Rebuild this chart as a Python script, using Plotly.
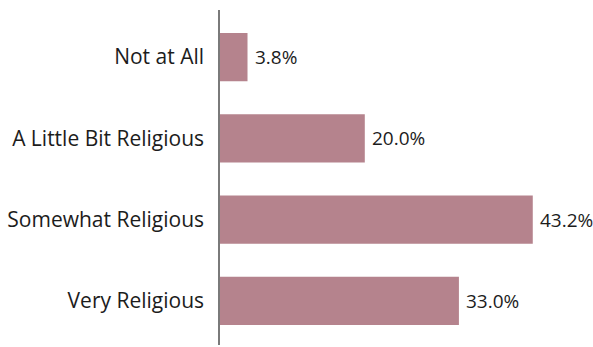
import plotly.graph_objects as go

categories = ["Very Religious", "Somewhat Religious", "A Little Bit Religious", "Not at All"]
values = [33.0, 43.2, 20.0, 3.8]
labels = ["33.0%", "43.2%", "20.0%", "3.8%"]

FONT = "Open Sans"
TXT = "#1c1c1c"

fig = go.Figure(go.Bar(
    x=values, y=categories, orientation="h",
    marker=dict(color="#B5838D", line=dict(width=0)),
    width=0.593, hoverinfo="skip",
))
for v, c, t in zip(values, categories, labels):
    fig.add_annotation(x=v, y=c, text=t, showarrow=False, xanchor="left",
                       xshift=5, font=dict(size=19, color=TXT, family=FONT))
fig.update_layout(
    width=593, height=347,
    margin=dict(l=220, r=11, t=10, b=2),
    plot_bgcolor="white", paper_bgcolor="white",
    showlegend=False,
    font=dict(family=FONT, size=21, color=TXT),
    xaxis=dict(range=[0, 50], visible=False, showgrid=False, zeroline=False),
    yaxis=dict(range=[-0.543, 3.580], showgrid=False, zeroline=False,
               showline=True, linecolor="#7a7a7a", linewidth=1.5,
               ticks="", ticklabelstandoff=10,
               tickfont=dict(size=21, color=TXT, family=FONT)),
)
fig.write_html("out.html", config={"displayModeBar": False},
               post_script="document.body.style.margin='0';document.body.style.overflow='hidden';")
